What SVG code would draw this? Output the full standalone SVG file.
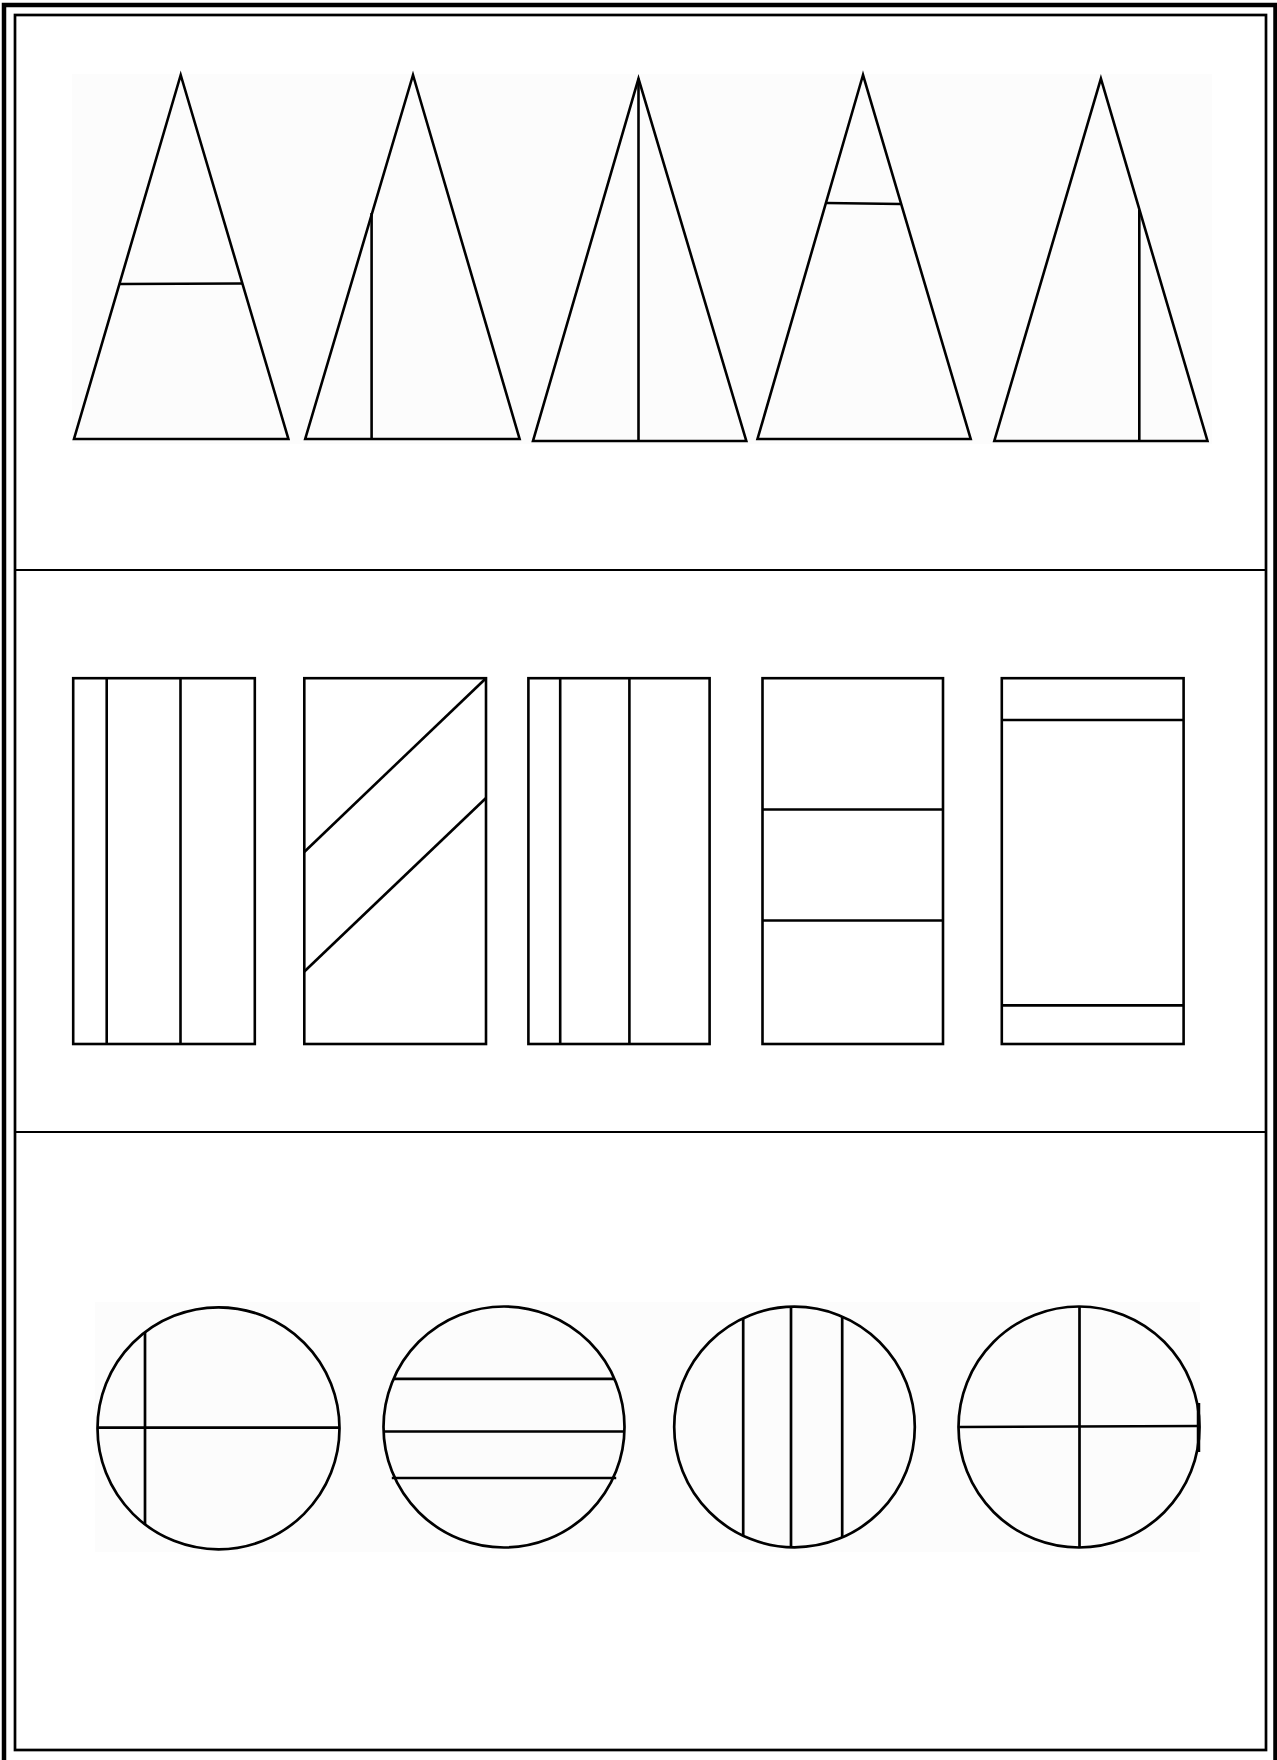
<svg xmlns="http://www.w3.org/2000/svg" width="1277" height="1760" viewBox="0 0 1277 1760">
<style>
.s{fill:none;stroke:#000;stroke-width:2.6;stroke-linejoin:miter}
.c{fill:none;stroke:#000;stroke-width:2.7}
.bg{fill:#fcfcfc;stroke:none}
</style>
<rect width="1277" height="1760" fill="#fff"/>
<g id="frame">
<path d="M4,1762 V5 H1275.5 V1762" fill="none" stroke="#000" stroke-width="4.5"/>
<rect x="15" y="15" width="1251" height="1735" fill="none" stroke="#000" stroke-width="2.7"/>
<line x1="15" y1="570" x2="1266" y2="570" stroke="#000" stroke-width="2.2"/>
<line x1="15" y1="1132" x2="1266" y2="1132" stroke="#000" stroke-width="2.2"/>
</g>
<rect class="bg" x="72" y="74" width="1140" height="370"/>
<rect class="bg" x="95" y="1302" width="1105" height="250"/>
<g id="triangle1">
<path class="s" d="M180.7,75 L74,439 H288.4 Z"/>
<line class="s" x1="120" y1="284" x2="242.4" y2="283.5"/>
</g>
<g id="triangle2">
<path class="s" d="M413,75 L305.2,439 H519.6 Z"/>
<line class="s" x1="371.6" y1="213" x2="371.6" y2="439"/>
</g>
<g id="triangle3">
<path class="s" d="M638.5,78.6 L533,441 H746.3 Z"/>
<line class="s" x1="638.5" y1="78.6" x2="638.5" y2="441"/>
</g>
<g id="triangle4">
<path class="s" d="M863,75 L757.5,439 H970.7 Z"/>
<line class="s" x1="826.5" y1="203" x2="900.5" y2="204"/>
</g>
<g id="triangle5">
<path class="s" d="M1100.9,78.6 L994.3,441 H1207.5 Z"/>
<line class="s" x1="1139.3" y1="210" x2="1139.3" y2="441"/>
</g>
<g id="rect1">
<rect class="s" x="73.2" y="678.2" width="181.6" height="365.8"/>
<line class="s" x1="106.7" y1="678.2" x2="106.7" y2="1044"/>
<line class="s" x1="180.5" y1="678.2" x2="180.5" y2="1044"/>
</g>
<g id="rect2">
<rect class="s" x="304.3" y="678.2" width="181.7" height="365.8"/>
<line class="s" x1="304.3" y1="852" x2="486" y2="678.2"/>
<line class="s" x1="304.3" y1="971.5" x2="486" y2="798"/>
</g>
<g id="rect3">
<rect class="s" x="528.4" y="678.2" width="181.2" height="365.8"/>
<line class="s" x1="560.2" y1="678.2" x2="560.2" y2="1044"/>
<line class="s" x1="629.4" y1="678.2" x2="629.4" y2="1044"/>
</g>
<g id="rect4">
<rect class="s" x="762.5" y="678.2" width="180.5" height="365.8"/>
<line class="s" x1="762.5" y1="809.5" x2="943" y2="809.5"/>
<line class="s" x1="762.5" y1="920.5" x2="943" y2="920.5"/>
</g>
<g id="rect5">
<rect class="s" x="1001.8" y="678.2" width="181.8" height="365.8"/>
<line class="s" x1="1001.8" y1="720" x2="1183.6" y2="720"/>
<line class="s" x1="1001.8" y1="1005.4" x2="1183.6" y2="1005.4"/>
</g>
<g id="circle1">
<circle class="c" cx="218.5" cy="1428.3" r="121"/>
<line class="c" x1="97.5" y1="1427.6" x2="339.5" y2="1427.6"/>
<line class="c" x1="145" y1="1332" x2="145" y2="1524.5"/>
</g>
<g id="circle2">
<circle class="c" cx="504" cy="1427" r="120.5"/>
<line class="c" x1="393.5" y1="1378.8" x2="614.5" y2="1378.8"/>
<line class="c" x1="383.6" y1="1431.5" x2="624.4" y2="1431.5"/>
<line class="c" x1="391.8" y1="1478" x2="616.2" y2="1478"/>
</g>
<g id="circle3">
<circle class="c" cx="794.5" cy="1427" r="120.3"/>
<line class="c" x1="743.2" y1="1318" x2="743.2" y2="1536"/>
<line class="c" x1="791" y1="1306.8" x2="791" y2="1547.2"/>
<line class="c" x1="842.2" y1="1316.7" x2="842.2" y2="1537.3"/>
</g>
<g id="circle4">
<circle class="c" cx="1079" cy="1427" r="120.5"/>
<line class="c" x1="1079.5" y1="1306.5" x2="1079.5" y2="1547.5"/>
<line class="c" x1="958.5" y1="1427" x2="1199.5" y2="1426"/>
<line x1="1198.5" y1="1403" x2="1198.5" y2="1452" stroke="#000" stroke-width="3.5"/>
</g>
</svg>
